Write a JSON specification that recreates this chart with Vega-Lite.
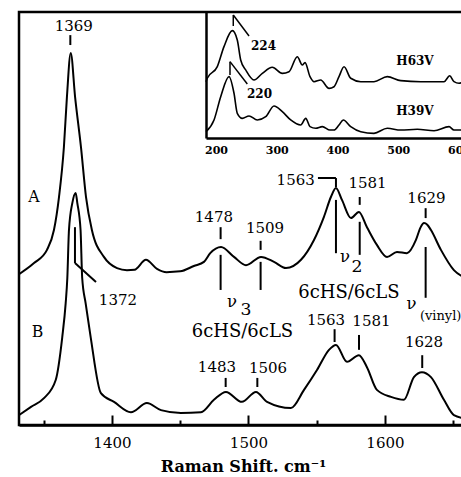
{
  "$schema": "https://vega.github.io/schema/vega-lite/v6.json",
  "width": 448,
  "height": 413,
  "padding": {"left": 15, "top": 12, "right": 0, "bottom": 0},
  "background": "white",
  "config": {"view": {"stroke": "black", "strokeWidth": 2.5}, "font": "DejaVu Serif"},
  "datasets": {
    "main": [
      {"s":"A","x":1331.9,"y":36.5},{"s":"A","x":1342.9,"y":39.2},{"s":"A","x":1352.4,"y":42.4},{"s":"A","x":1357.5,"y":47.2},{"s":"A","x":1361.2,"y":55.2},{"s":"A","x":1364.8,"y":67.3},{"s":"A","x":1367.0,"y":79.4},{"s":"A","x":1369.8,"y":90.1},{"s":"A","x":1373.0,"y":79.4},{"s":"A","x":1377.3,"y":67.3},{"s":"A","x":1381.0,"y":55.2},{"s":"A","x":1385.3,"y":47.2},{"s":"A","x":1394.1,"y":40.7},{"s":"A","x":1403.7,"y":38.0},{"s":"A","x":1411.0,"y":37.5},{"s":"A","x":1416.5,"y":37.6},{"s":"A","x":1424.9,"y":40.0},{"s":"A","x":1433.0,"y":37.8},{"s":"A","x":1440.0,"y":37.0},{"s":"A","x":1450.0,"y":37.2},{"s":"A","x":1460.0,"y":38.5},{"s":"A","x":1467.4,"y":39.5},{"s":"A","x":1472.0,"y":41.6},{"s":"A","x":1479.9,"y":43.1},{"s":"A","x":1489.4,"y":40.7},{"s":"A","x":1498.2,"y":38.7},{"s":"A","x":1509.2,"y":40.7},{"s":"A","x":1518.7,"y":39.5},{"s":"A","x":1527.5,"y":38.0},{"s":"A","x":1538.5,"y":40.0},{"s":"A","x":1548.0,"y":44.8},{"s":"A","x":1555.3,"y":50.4},{"s":"A","x":1560.4,"y":55.2},{"s":"A","x":1564.1,"y":57.4},{"s":"A","x":1568.5,"y":54.5},{"s":"A","x":1575.1,"y":50.1},{"s":"A","x":1580.9,"y":51.6},{"s":"A","x":1586.8,"y":47.9},{"s":"A","x":1594.1,"y":43.6},{"s":"A","x":1601.5,"y":40.7},{"s":"A","x":1608.8,"y":41.9},{"s":"A","x":1616.1,"y":41.6},{"s":"A","x":1622.7,"y":44.8},{"s":"A","x":1626.0,"y":47.8},{"s":"A","x":1628.6,"y":48.9},{"s":"A","x":1631.0,"y":48.5},{"s":"A","x":1633.7,"y":47.2},{"s":"A","x":1641.0,"y":42.4},{"s":"A","x":1650.5,"y":37.5},{"s":"A","x":1660.1,"y":35.5},
      {"s":"B","x":1331.9,"y":2.4},{"s":"B","x":1340.7,"y":4.4},{"s":"B","x":1350.2,"y":6.5},{"s":"B","x":1358.8,"y":10.9},{"s":"B","x":1363.6,"y":21.3},{"s":"B","x":1366.1,"y":29.5},{"s":"B","x":1367.3,"y":35.6},{"s":"B","x":1368.5,"y":47.2},{"s":"B","x":1371.0,"y":53.8},{"s":"B","x":1373.4,"y":56.2},{"s":"B","x":1374.6,"y":53.8},{"s":"B","x":1377.0,"y":47.2},{"s":"B","x":1378.2,"y":35.6},{"s":"B","x":1380.7,"y":29.5},{"s":"B","x":1384.4,"y":21.3},{"s":"B","x":1391.9,"y":7.7},{"s":"B","x":1401.5,"y":5.6},{"s":"B","x":1413.9,"y":3.1},{"s":"B","x":1425.6,"y":5.3},{"s":"B","x":1435.9,"y":3.6},{"s":"B","x":1450.5,"y":2.9},{"s":"B","x":1465.2,"y":3.1},{"s":"B","x":1474.7,"y":6.1},{"s":"B","x":1483.5,"y":8.0},{"s":"B","x":1495.2,"y":5.6},{"s":"B","x":1505.5,"y":8.0},{"s":"B","x":1513.6,"y":5.6},{"s":"B","x":1531.1,"y":4.1},{"s":"B","x":1540.7,"y":8.5},{"s":"B","x":1550.2,"y":13.3},{"s":"B","x":1559.0,"y":18.2},{"s":"B","x":1564.1,"y":19.4},{"s":"B","x":1572.2,"y":15.3},{"s":"B","x":1580.9,"y":16.9},{"s":"B","x":1586.8,"y":14.0},{"s":"B","x":1594.1,"y":8.5},{"s":"B","x":1604.4,"y":6.8},{"s":"B","x":1613.9,"y":6.1},{"s":"B","x":1621.2,"y":11.6},{"s":"B","x":1627.1,"y":12.8},{"s":"B","x":1633.7,"y":11.6},{"s":"B","x":1643.2,"y":6.1},{"s":"B","x":1650.5,"y":2.4},{"s":"B","x":1660.1,"y":1.5}
    ],
    "mainRules": [
      {"x":1369.5,"y":94.4,"x2":1369.5,"y2":92.0},
      {"x":1372.9,"y":47.9,"x2":1372.9,"y2":39.2},
      {"x":1372.9,"y":39.2,"x2":1388.3,"y2":34.6},
      {"x":1479.6,"y":47.9,"x2":1479.6,"y2":45.0},
      {"x":1479.6,"y":41.2,"x2":1479.6,"y2":32.7},
      {"x":1508.9,"y":44.6,"x2":1508.9,"y2":42.4},
      {"x":1508.9,"y":39.5,"x2":1508.9,"y2":32.7},
      {"x":1550.9,"y":59.8,"x2":1564.1,"y2":59.8},
      {"x":1564.1,"y":59.8,"x2":1564.1,"y2":57.6},
      {"x":1564.1,"y":54.5,"x2":1564.1,"y2":41.6},
      {"x":1581.5,"y":55.2,"x2":1581.5,"y2":53.3},
      {"x":1581.5,"y":49.2,"x2":1581.5,"y2":41.2},
      {"x":1629.8,"y":52.5,"x2":1629.8,"y2":50.1},
      {"x":1629.8,"y":43.1,"x2":1629.8,"y2":30.8},
      {"x":1563.1,"y":23.2,"x2":1563.1,"y2":20.1},
      {"x":1581.0,"y":21.8,"x2":1581.0,"y2":18.2},
      {"x":1627.3,"y":16.9,"x2":1627.3,"y2":13.8},
      {"x":1483.3,"y":11.4,"x2":1483.3,"y2":9.2},
      {"x":1506.5,"y":11.4,"x2":1506.5,"y2":9.2}
    ],
    "mainText": [
      {"x":1372.0,"y":95.4,"t":"1369","k":"num"},
      {"x":1342.9,"y":54.0,"t":"A","k":"big"},
      {"x":1345.4,"y":21.3,"t":"B","k":"big"},
      {"x":1404.4,"y":29.1,"t":"1372","k":"num"},
      {"x":1474.7,"y":49.2,"t":"1478","k":"num"},
      {"x":1512.1,"y":46.5,"t":"1509","k":"num"},
      {"x":1487.9,"y":28.6,"t":"ν","k":"nu"},
      {"x":1498.2,"y":26.6,"t":"3","k":"sub"},
      {"x":1495.6,"y":21.3,"t":"6cHS/6cLS","k":"cls"},
      {"x":1534.6,"y":58.1,"t":"1563","k":"num"},
      {"x":1587.2,"y":57.4,"t":"1581","k":"num"},
      {"x":1570.7,"y":39.5,"t":"ν","k":"nu"},
      {"x":1579.5,"y":37.0,"t":"2","k":"sub"},
      {"x":1573.6,"y":30.8,"t":"6cHS/6cLS","k":"cls"},
      {"x":1630.4,"y":53.8,"t":"1629","k":"num"},
      {"x":1619.4,"y":28.0,"t":"ν","k":"nu"},
      {"x":1556.8,"y":24.2,"t":"1563","k":"num"},
      {"x":1590.1,"y":24.0,"t":"1581","k":"num"},
      {"x":1628.6,"y":18.9,"t":"1628","k":"num"},
      {"x":1476.9,"y":12.8,"t":"1483","k":"num"},
      {"x":1514.3,"y":12.6,"t":"1506","k":"num"}
    ],
    "vinylText": [
      {"x":1625.6,"y":25.4,"t":"(vinyl)"}
    ],
    "inset": [
      {"s":"H63V","x":183.5,"y":44.7},{"s":"H63V","x":185.6,"y":47.4},{"s":"H63V","x":202.1,"y":56.6},{"s":"H63V","x":213.1,"y":72.5},{"s":"H63V","x":226.8,"y":85.2},{"s":"H63V","x":235.0,"y":77.8},{"s":"H63V","x":240.6,"y":61.9},{"s":"H63V","x":248.8,"y":54.0},{"s":"H63V","x":262.5,"y":46.0},{"s":"H63V","x":276.2,"y":51.3},{"s":"H63V","x":292.6,"y":56.1},{"s":"H63V","x":309.1,"y":51.3},{"s":"H63V","x":320.1,"y":52.6},{"s":"H63V","x":333.8,"y":64.5},{"s":"H63V","x":342.0,"y":57.9},{"s":"H63V","x":346.5,"y":59.8},{"s":"H63V","x":354.7,"y":48.7},{"s":"H63V","x":361.3,"y":44.7},{"s":"H63V","x":372.3,"y":46.0},{"s":"H63V","x":386.0,"y":39.4},{"s":"H63V","x":394.2,"y":40.7},{"s":"H63V","x":402.4,"y":48.7},{"s":"H63V","x":410.7,"y":56.6},{"s":"H63V","x":421.7,"y":47.4},{"s":"H63V","x":438.2,"y":44.7},{"s":"H63V","x":460.0,"y":44.7},{"s":"H63V","x":481.9,"y":48.7},{"s":"H63V","x":504.0,"y":45.5},{"s":"H63V","x":536.9,"y":44.7},{"s":"H63V","x":575.3,"y":44.7},{"s":"H63V","x":584.6,"y":49.4},{"s":"H63V","x":591.7,"y":44.7},{"s":"H63V","x":600.0,"y":43.4},{"s":"H63V","x":608.2,"y":44.7},
      {"s":"H39V","x":183.5,"y":5.0},{"s":"H39V","x":196.7,"y":14.3},{"s":"H39V","x":207.7,"y":32.8},{"s":"H39V","x":221.4,"y":48.7},{"s":"H39V","x":229.6,"y":35.5},{"s":"H39V","x":235.0,"y":19.6},{"s":"H39V","x":243.3,"y":15.6},{"s":"H39V","x":254.3,"y":17.5},{"s":"H39V","x":267.9,"y":14.3},{"s":"H39V","x":281.8,"y":16.9},{"s":"H39V","x":295.4,"y":25.4},{"s":"H39V","x":309.1,"y":20.9},{"s":"H39V","x":322.9,"y":14.3},{"s":"H39V","x":339.4,"y":10.3},{"s":"H39V","x":347.7,"y":15.6},{"s":"H39V","x":354.7,"y":9.0},{"s":"H39V","x":364.1,"y":7.7},{"s":"H39V","x":375.0,"y":9.0},{"s":"H39V","x":387.6,"y":6.3},{"s":"H39V","x":394.2,"y":6.3},{"s":"H39V","x":402.4,"y":10.3},{"s":"H39V","x":409.5,"y":14.3},{"s":"H39V","x":421.7,"y":9.0},{"s":"H39V","x":438.2,"y":5.0},{"s":"H39V","x":460.0,"y":3.7},{"s":"H39V","x":481.9,"y":7.7},{"s":"H39V","x":504.0,"y":6.3},{"s":"H39V","x":531.3,"y":6.9},{"s":"H39V","x":558.8,"y":5.8},{"s":"H39V","x":583.5,"y":9.0},{"s":"H39V","x":591.7,"y":6.3},{"s":"H39V","x":608.2,"y":6.3}
    ],
    "insetRules": [
      {"x":228.4,"y":97.6,"x2":228.4,"y2":88.9},
      {"x":228.4,"y":97.6,"x2":254.3,"y2":81.0},
      {"x":223.0,"y":60.6,"x2":223.0,"y2":50.0},
      {"x":223.0,"y":60.6,"x2":251.5,"y2":42.9}
    ],
    "insetText": [
      {"x":278.2,"y":69.8,"t":"224"},
      {"x":271.6,"y":31.7,"t":"220"},
      {"x":527.5,"y":57.9,"t":"H63V"},
      {"x":527.3,"y":18.3,"t":"H39V"}
    ]
  },
  "layer": [
    {
      "layer": [
        {
          "data": {"name": "main"},
          "mark": {"type": "line", "color": "black", "strokeWidth": 2, "interpolate": "monotone"},
          "encoding": {
            "x": {"field": "x", "type": "quantitative",
              "scale": {"domain": [1331.9, 1660.1], "nice": false, "zero": false},
              "title": "Raman Shift. cm⁻¹",
              "axis": {
                "values": [1350, 1400, 1450, 1500, 1550, 1600, 1650],
                "format": "d",
                "labelExpr": "datum.value % 100 === 0 ? datum.label : ''",
                "tickSize": {"condition": {"test": "datum.value % 100 === 0", "value": -10}, "value": -5},
                "tickWidth": 2, "tickColor": "black",
                "domainColor": "black", "domainWidth": 2.5,
                "labelFont": "DejaVu Serif", "labelFontSize": 15, "labelColor": "black", "labelPadding": 20,
                "grid": false,
                "titleFont": "DejaVu Serif", "titleFontSize": 16, "titleFontWeight": "bold", "titleColor": "black", "titlePadding": 8
              }},
            "y": {"field": "y", "type": "quantitative", "scale": {"domain": [0, 100], "nice": false, "zero": false}, "axis": null},
            "detail": {"field": "s"}
          }
        },
        {
          "data": {"name": "mainRules"},
          "mark": {"type": "rule", "color": "black", "strokeWidth": 2},
          "encoding": {
            "x": {"field": "x", "type": "quantitative", "scale": {"domain": [1331.9, 1660.1], "nice": false, "zero": false}, "title": "Raman Shift. cm⁻¹"},
            "y": {"field": "y", "type": "quantitative", "scale": {"domain": [0, 100], "nice": false, "zero": false}, "axis": null},
            "x2": {"field": "x2"},
            "y2": {"field": "y2"}
          }
        },
        {
          "data": {"name": "mainText"},
          "mark": {"type": "text", "color": "black", "font": "DejaVu Serif", "align": "center", "baseline": "alphabetic"},
          "encoding": {
            "x": {"field": "x", "type": "quantitative", "scale": {"domain": [1331.9, 1660.1], "nice": false, "zero": false}, "title": "Raman Shift. cm⁻¹"},
            "y": {"field": "y", "type": "quantitative", "scale": {"domain": [0, 100], "nice": false, "zero": false}, "axis": null},
            "text": {"field": "t"},
            "size": {"field": "k", "type": "nominal", "scale": {"domain": ["num", "big", "nu", "sub", "cls"], "range": [15, 18, 18, 14, 16]}, "legend": null}
          }
        },
        {
          "data": {"name": "vinylText"},
          "mark": {"type": "text", "color": "black", "font": "DejaVu Serif", "fontSize": 13, "align": "left", "baseline": "alphabetic"},
          "encoding": {
            "x": {"field": "x", "type": "quantitative", "scale": {"domain": [1331.9, 1660.1], "nice": false, "zero": false}, "title": "Raman Shift. cm⁻¹"},
            "y": {"field": "y", "type": "quantitative", "scale": {"domain": [0, 100], "nice": false, "zero": false}, "axis": null},
            "text": {"field": "t"}
          }
        }
      ]
    },
    {
      "layer": [
        {
          "data": {"name": "inset"},
          "mark": {"type": "line", "color": "black", "strokeWidth": 1.6, "interpolate": "monotone"},
          "encoding": {
            "x": {"field": "x", "type": "quantitative",
              "scale": {"domain": [183.5, 613.1], "range": [187, 448], "nice": false, "zero": false},
              "title": null,
              "axis": {"orient": "bottom", "offset": -287, "values": [200, 300, 400, 500, 600], "ticks": false, "grid": false,
                "domainColor": "black", "domainWidth": 2.5, "labelFont": "DejaVu Serif", "labelFontSize": 11, "labelFontWeight": "bold",
                "labelColor": "black", "labelPadding": 6}},
            "y": {"field": "y", "type": "quantitative",
              "scale": {"domain": [0, 100], "range": [126, 0], "nice": false, "zero": false},
              "title": null,
              "axis": {"orient": "left", "offset": -187, "ticks": false, "labels": false, "grid": false, "domainColor": "black", "domainWidth": 2.5}},
            "detail": {"field": "s"}
          }
        },
        {
          "data": {"name": "insetRules"},
          "mark": {"type": "rule", "color": "black", "strokeWidth": 1.5},
          "encoding": {
            "x": {"field": "x", "type": "quantitative", "scale": {"domain": [183.5, 613.1], "range": [187, 448], "nice": false, "zero": false}, "title": null},
            "y": {"field": "y", "type": "quantitative", "scale": {"domain": [0, 100], "range": [126, 0], "nice": false, "zero": false}, "title": null},
            "x2": {"field": "x2"},
            "y2": {"field": "y2"}
          }
        },
        {
          "data": {"name": "insetText"},
          "mark": {"type": "text", "color": "black", "font": "DejaVu Serif", "fontSize": 12, "fontWeight": "bold", "align": "center", "baseline": "alphabetic"},
          "encoding": {
            "x": {"field": "x", "type": "quantitative", "scale": {"domain": [183.5, 613.1], "range": [187, 448], "nice": false, "zero": false}, "title": null},
            "y": {"field": "y", "type": "quantitative", "scale": {"domain": [0, 100], "range": [126, 0], "nice": false, "zero": false}, "title": null},
            "text": {"field": "t"}
          }
        }
      ]
    }
  ],
  "resolve": {"scale": {"x": "independent", "y": "independent"}, "axis": {"x": "independent", "y": "independent"}}
}
